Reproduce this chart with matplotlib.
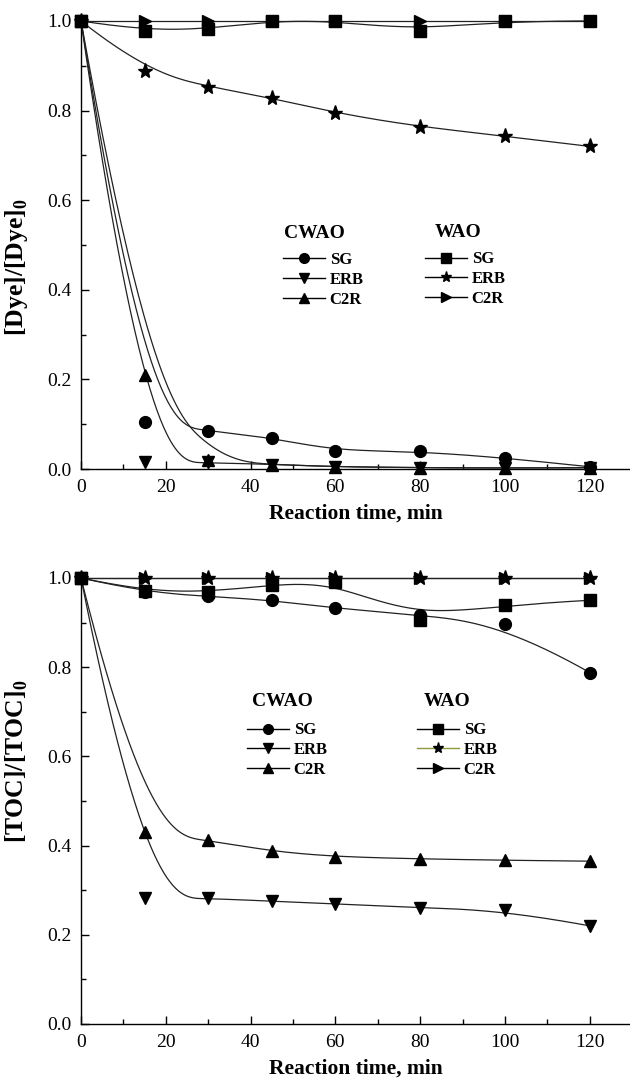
import numpy as np
import matplotlib
matplotlib.use("Agg")
import matplotlib.pyplot as plt
from matplotlib.lines import Line2D
from matplotlib.ticker import MultipleLocator

plt.rcParams['font.family'] = ['Liberation Serif', 'DejaVu Serif']
plt.rcParams['mathtext.fontset'] = 'custom'
plt.rcParams['mathtext.rm'] = 'Liberation Serif'
plt.rcParams['mathtext.bf'] = 'Liberation Serif:bold'

# ---------------- data ----------------
time_min = [0, 15, 30, 45, 60, 80, 100, 120]

# Panel (a): [Dye]/[Dye]0
dye_cwao_sg = [1.0, 0.105, 0.085, 0.070, 0.040, 0.040, 0.025, 0.005]
dye_cwao_erb = [1.0, 0.015, 0.015, 0.010, 0.005, 0.003, 0.002, 0.003]
dye_cwao_c2r = [1.0, 0.210, 0.020, 0.010, 0.005, 0.003, 0.002, 0.003]
dye_wao_sg = [1.0, 0.978, 0.982, 1.0, 1.0, 0.978, 1.0, 1.0]
dye_wao_erb = [1.0, 0.888, 0.853, 0.828, 0.795, 0.763, 0.743, 0.720]
dye_wao_c2r = [1.0, 1.0, 1.0, 1.0, 1.0, 1.0, 1.0, 1.0]

# Panel (b): [TOC]/[TOC]0
toc_cwao_sg = [1.0, 0.968, 0.959, 0.950, 0.932, 0.917, 0.896, 0.788]
toc_cwao_erb = [1.0, 0.283, 0.282, 0.275, 0.270, 0.260, 0.255, 0.220]
toc_cwao_c2r = [1.0, 0.430, 0.412, 0.387, 0.375, 0.370, 0.367, 0.365]
toc_wao_sg = [1.0, 0.970, 0.968, 0.985, 0.990, 0.905, 0.940, 0.950]
toc_wao_erb = [1.0, 1.0, 1.0, 1.0, 1.0, 1.0, 1.0, 1.0]
toc_wao_c2r = [1.0, 1.0, 1.0, 1.0, 1.0, 1.0, 1.0, 1.0]

series_names = ["SG", "ERB", "C2R"]
cwao_markers = ["o", "v", "^"]
wao_markers = ["s", "*", ">"]


def bspline(xs, ys, degree=3, num=500):
    """Clamped uniform B-spline using the data points as control points."""
    P = np.column_stack([xs, ys]).astype(float)
    n = len(P)
    k = degree
    nspan = n - k
    t = np.concatenate([np.zeros(k), np.arange(nspan + 1), np.full(k, nspan)]).astype(float)
    us = np.linspace(0, nspan, num)
    out = []
    for u in us:
        if u >= nspan:
            out.append(P[-1])
            continue
        s = int(np.searchsorted(t, u, side='right') - 1)
        d = [P[j + s - k].copy() for j in range(k + 1)]
        for r in range(1, k + 1):
            for j in range(k, r - 1, -1):
                i = j + s - k
                a = (u - t[i]) / (t[i + k + 1 - r] - t[i])
                d[j] = (1 - a) * d[j - 1] + a * d[j]
        out.append(d[k])
    out = np.array(out)
    return out[:, 0], out[:, 1]


fig = plt.figure(figsize=(6.30, 10.92), dpi=100)
ax1 = fig.add_axes([0.1286, 0.5705, 0.8714, 0.4103])
ax2 = fig.add_axes([0.1286, 0.0623, 0.8714, 0.4084])

MS = 8.5
LW = 0.9


def draw_panel(ax, cw, wa, ylabel, ylab_y):
    allser = list(zip(cw, cwao_markers)) + list(zip(wa, wao_markers))
    for ys, m in allser:
        bx, by = bspline(time_min, ys)
        ax.plot(bx, by, color='#222222', lw=LW, zorder=2, clip_on=False)
    for ys, m in allser:
        ms = MS + 2.5 if m == '*' else MS
        ax.plot(time_min, ys, linestyle='none', marker=m, color='black',
                markersize=ms, zorder=3, clip_on=False)
    ax.set_xlim(0, 129.5)
    ax.set_ylim(0, 1.0)
    ax.xaxis.set_minor_locator(MultipleLocator(10))
    ax.yaxis.set_minor_locator(MultipleLocator(0.1))
    ax.set_xticks([0, 20, 40, 60, 80, 100, 120])
    ax.set_yticks([0.0, 0.2, 0.4, 0.6, 0.8, 1.0])
    ax.set_yticklabels(["0.0", "0.2", "0.4", "0.6", "0.8", "1.0"])
    ax.tick_params(which='both', direction='in', top=False, right=False,
                   labelsize=14, width=1)
    ax.tick_params(which='major', length=6, pad=7)
    ax.tick_params(which='minor', length=3.5)
    ax.spines['top'].set_visible(False)
    ax.spines['right'].set_visible(False)
    ax.spines['left'].set_linewidth(1.0)
    ax.spines['bottom'].set_linewidth(1.0)
    ax.set_xlabel("Reaction time, min", fontsize=15.5, fontweight='bold', labelpad=6)
    ax.set_ylabel(ylabel, fontsize=18.5, fontweight='bold')
    ax.yaxis.set_label_coords(-0.093, ylab_y)


def add_legends(ax, pos_cw, pos_wa, title_cw, title_wa, erb_color='black'):
    h_cw = [Line2D([], [], color='black', lw=1, marker=m, markersize=7)
            for m in cwao_markers]
    h_wa = []
    for m, nm in zip(wao_markers, series_names):
        c = erb_color if nm == "ERB" else 'black'
        h_wa.append(Line2D([], [], color=c, lw=1, marker=m, markersize=8 if m == '*' else 7,
                           markerfacecolor='black', markeredgecolor='black'))
    kw = dict(frameon=False, prop={'weight': 'bold', 'size': 12},
              handlelength=2.5, handletextpad=0.3, labelspacing=0.22,
              borderpad=0, borderaxespad=0, loc='center left')
    leg1 = ax.legend(h_cw, series_names, bbox_to_anchor=pos_cw, **kw)
    ax.add_artist(leg1)
    ax.legend(h_wa, series_names, bbox_to_anchor=pos_wa, **kw)
    ax.text(title_cw[0], title_cw[1], "CWAO", transform=ax.transAxes,
            ha='center', va='center', fontsize=14, fontweight='bold')
    ax.text(title_wa[0], title_wa[1], "WAO", transform=ax.transAxes,
            ha='center', va='center', fontsize=14, fontweight='bold')


draw_panel(ax1, [dye_cwao_sg, dye_cwao_erb, dye_cwao_c2r],
           [dye_wao_sg, dye_wao_erb, dye_wao_c2r], r"[Dye]/[Dye]$_\mathbf{0}$", 0.45)
draw_panel(ax2, [toc_cwao_sg, toc_cwao_erb, toc_cwao_c2r],
           [toc_wao_sg, toc_wao_erb, toc_wao_c2r], r"[TOC]/[TOC]$_\mathbf{0}$", 0.59)

add_legends(ax1, (0.368, 0.422), (0.6266, 0.424), (0.4244, 0.5246), (0.6867, 0.5268))
add_legends(ax2, (0.3024, 0.614), (0.612, 0.614), (0.3661, 0.722), (0.6667, 0.722),
            erb_color='#8f9a3a')

fig.savefig("out.png", dpi=100)
